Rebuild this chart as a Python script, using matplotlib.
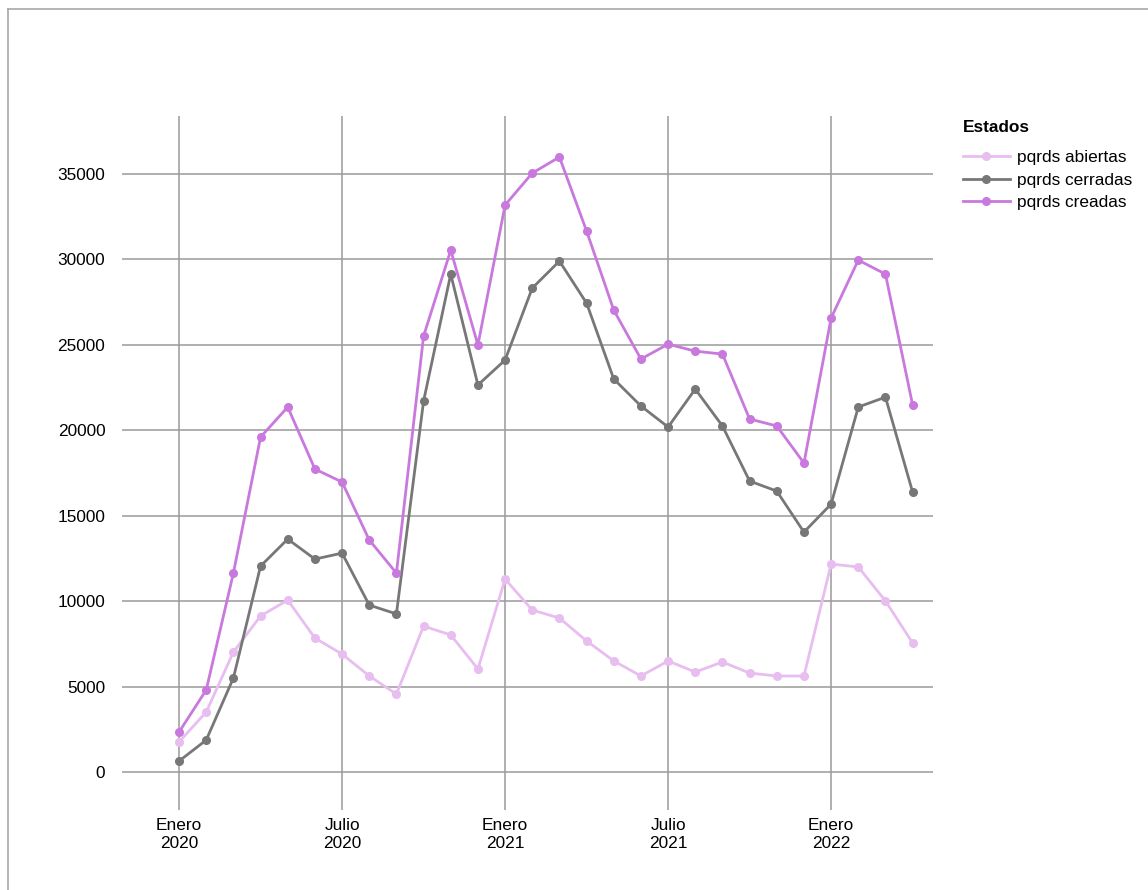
import matplotlib
matplotlib.use("Agg")
import matplotlib.pyplot as plt
from matplotlib.lines import Line2D

plt.rcParams['font.family'] = ['Liberation Sans', 'DejaVu Sans']

months = list(range(28))  # Jan 2020 .. Apr 2022
tick_months = [0, 6, 12, 18, 24]
tick_labels = ["Enero\n2020", "Julio\n2020", "Enero\n2021", "Julio\n2021", "Enero\n2022"]

abiertas = [1760, 3510, 7020, 9130, 10060, 7840, 6900, 5620, 4560, 8540, 8020, 6030,
            11290, 9480, 9010, 7670, 6500, 5620, 6500, 5850, 6440, 5790, 5620, 5620,
            12170, 12000, 10010, 7550]
cerradas = [640, 1870, 5500, 12050, 13630, 12460, 12810, 9770, 9250, 21710, 29140, 22650,
            24110, 28320, 29900, 27440, 23000, 21420, 20190, 22410, 20250, 17030, 16440, 14040,
            15680, 21360, 21940, 16380]
creadas = [2340, 4800, 11640, 19600, 21360, 17730, 16970, 13580, 11640, 25510, 30540, 24990,
           33180, 35050, 35990, 31660, 27030, 24170, 25040, 24630, 24460, 20660, 20250, 18080,
           26570, 29960, 29140, 21480]

series = [
    ("pqrds abiertas", abiertas, "#e8bdef"),
    ("pqrds cerradas", cerradas, "#777777"),
    ("pqrds creadas", creadas, "#c978dd"),
]

W, H = 1148, 890
FS = 12.4
fig = plt.figure(figsize=(W / 100, H / 100), dpi=100)
ax = fig.add_axes([122 / W, 1 - 810 / H, (933 - 122) / W, (810 - 116) / H])

for name, vals, col in series:
    ax.plot(months, vals, color=col, lw=2.0, marker="o", ms=5.5, label=name, zorder=3)

ax.set_xlim(-2.1, 27.75)
ax.set_ylim(-2224, 38393)
ax.set_yticks(range(0, 35001, 5000))
ax.set_xticks(tick_months)
ax.set_xticklabels(tick_labels, fontsize=FS, linespacing=1.25)
ax.tick_params(axis='y', labelsize=FS, length=0, pad=12)
ax.tick_params(axis='x', length=0, pad=6)
ax.grid(True, color="#9a9a9a", lw=1.1, zorder=0)
for s in ax.spines.values():
    s.set_visible(False)

leg = ax.legend(loc="upper left", bbox_to_anchor=(963 / W, 1 - 120 / H),
                bbox_transform=fig.transFigure, frameon=False, title="Estados",
                fontsize=FS, handlelength=2.7, handletextpad=0.45,
                labelspacing=0.42, borderaxespad=0, borderpad=0)
leg.get_title().set_fontweight("bold")
leg.get_title().set_fontsize(FS)
leg._legend_box.align = "left"
leg._legend_box.sep = 11

# light frame along the top and left edges
fig.add_artist(Line2D([7.5 / W, 7.5 / W], [0, 1 - 9 / H], color="#a8a8a8", lw=1.2))
fig.add_artist(Line2D([7.5 / W, 1], [1 - 9 / H, 1 - 9 / H], color="#a8a8a8", lw=1.2))

fig.savefig("out.png", dpi=100)
